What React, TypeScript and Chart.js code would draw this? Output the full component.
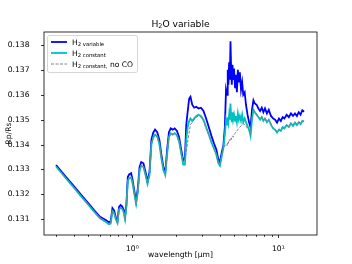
import React, { useEffect, useRef } from "react";
import { Chart, registerables } from "chart.js";

Chart.register(...registerables);

const wavelength = [
  0.30, 0.35, 0.40, 0.45, 0.50, 0.55, 0.60, 0.63, 0.66, 0.69,
  0.71, 0.73, 0.75, 0.77, 0.79, 0.81, 0.83, 0.85, 0.87, 0.89,
  0.91, 0.93, 0.95, 0.98, 1.00, 1.03, 1.06, 1.09, 1.12, 1.15,
  1.19, 1.23, 1.27, 1.31, 1.35, 1.39, 1.43, 1.48, 1.53, 1.58,
  1.63, 1.68, 1.73, 1.78, 1.83, 1.89, 1.95, 2.02, 2.09, 2.16,
  2.23, 2.29, 2.34, 2.39, 2.45, 2.50, 2.57, 2.65, 2.74, 2.84,
  2.95, 3.07, 3.20, 3.34, 3.48, 3.62, 3.76, 3.88, 3.98, 4.10,
  4.20, 4.30, 4.38, 4.45, 4.50, 4.55, 4.60, 4.65, 4.70, 4.75,
  4.80, 4.85, 4.90, 4.97, 5.05, 5.12, 5.20, 5.28, 5.36, 5.45,
  5.55, 5.65, 5.75, 5.88, 6.00, 6.15, 6.30, 6.45, 6.60, 6.75,
  6.90, 7.10, 7.30, 7.50, 7.70, 7.90, 8.10, 8.35, 8.60, 8.90,
  9.20, 9.50, 9.80, 10.1, 10.4, 10.7, 11.0, 11.4, 11.8, 12.2,
  12.6, 13.0, 13.4, 13.8, 14.2, 14.6, 15.0,
];

const rpH2Variable = [
  0.13318, 0.13271, 0.13231, 0.13195, 0.13164, 0.13135, 0.13110, 0.13103, 0.13096, 0.13088,
  0.13092, 0.13145, 0.13135, 0.13108, 0.13092, 0.13150, 0.13157, 0.13152, 0.13140, 0.13110,
  0.13160, 0.13270, 0.13280, 0.13285, 0.13262, 0.13215, 0.13172, 0.13225, 0.13310, 0.13330,
  0.13325, 0.13290, 0.13252, 0.13290, 0.13420, 0.13448, 0.13460, 0.13450, 0.13420, 0.13360,
  0.13310, 0.13290, 0.13380, 0.13450, 0.13465, 0.13460, 0.13465, 0.13455, 0.13430, 0.13380,
  0.13335, 0.13345, 0.13480, 0.13530, 0.13585, 0.13592, 0.13560, 0.13548, 0.13552, 0.13545,
  0.13548, 0.13535, 0.13505, 0.13470, 0.13435, 0.13405, 0.13380, 0.13340, 0.13330, 0.13370,
  0.13395, 0.13470, 0.13620, 0.13600, 0.13700, 0.13640, 0.13730, 0.13660, 0.13815, 0.13700,
  0.13640, 0.13720, 0.13660, 0.13705, 0.13630, 0.13680, 0.13610, 0.13700, 0.13650, 0.13690,
  0.13620, 0.13650, 0.13600, 0.13610, 0.13560, 0.13520, 0.13490, 0.13470, 0.13540, 0.13578,
  0.13565, 0.13560, 0.13545, 0.13535, 0.13548, 0.13530, 0.13545, 0.13525, 0.13540, 0.13515,
  0.13505, 0.13500, 0.13488, 0.13505, 0.13495, 0.13510, 0.13505, 0.13520, 0.13510, 0.13525,
  0.13515, 0.13525, 0.13515, 0.13530, 0.13520, 0.13538, 0.13532,
];

const rpH2Constant = [
  0.13312, 0.13265, 0.13225, 0.13189, 0.13158, 0.13129, 0.13104, 0.13096, 0.13089, 0.13080,
  0.13083, 0.13133, 0.13125, 0.13100, 0.13085, 0.13140, 0.13146, 0.13142, 0.13130, 0.13100,
  0.13150, 0.13255, 0.13265, 0.13268, 0.13248, 0.13203, 0.13162, 0.13210, 0.13295, 0.13315,
  0.13310, 0.13278, 0.13242, 0.13278, 0.13400, 0.13430, 0.13440, 0.13432, 0.13403, 0.13345,
  0.13298, 0.13278, 0.13362, 0.13430, 0.13445, 0.13440, 0.13446, 0.13437, 0.13412, 0.13365,
  0.13320, 0.13320, 0.13420, 0.13470, 0.13495, 0.13505, 0.13495, 0.13505, 0.13515, 0.13520,
  0.13515, 0.13500, 0.13470, 0.13440, 0.13410, 0.13385, 0.13360, 0.13325, 0.13315, 0.13355,
  0.13385, 0.13440, 0.13500, 0.13480, 0.13510, 0.13490, 0.13520, 0.13500, 0.13565, 0.13510,
  0.13490, 0.13530, 0.13500, 0.13520, 0.13495, 0.13515, 0.13490, 0.13525, 0.13500, 0.13515,
  0.13495, 0.13520, 0.13490, 0.13505, 0.13490, 0.13475, 0.13460, 0.13435, 0.13500, 0.13540,
  0.13530, 0.13520, 0.13510, 0.13500, 0.13510, 0.13495, 0.13505, 0.13490, 0.13500, 0.13480,
  0.13465, 0.13460, 0.13448, 0.13460, 0.13455, 0.13470, 0.13465, 0.13478, 0.13470, 0.13485,
  0.13475, 0.13488, 0.13478, 0.13490, 0.13482, 0.13495, 0.13492,
];

const rpH2ConstantNoCO = [
  0.13312, 0.13265, 0.13225, 0.13189, 0.13158, 0.13129, 0.13104, 0.13096, 0.13089, 0.13080,
  0.13083, 0.13133, 0.13125, 0.13100, 0.13085, 0.13140, 0.13146, 0.13142, 0.13130, 0.13100,
  0.13150, 0.13255, 0.13265, 0.13268, 0.13248, 0.13203, 0.13162, 0.13210, 0.13295, 0.13315,
  0.13310, 0.13278, 0.13242, 0.13278, 0.13400, 0.13430, 0.13440, 0.13432, 0.13403, 0.13345,
  0.13298, 0.13278, 0.13362, 0.13430, 0.13445, 0.13440, 0.13446, 0.13437, 0.13412, 0.13365,
  0.13330, 0.13340, 0.13370, 0.13410, 0.13450, 0.13480, 0.13490, 0.13500, 0.13510, 0.13515,
  0.13510, 0.13495, 0.13465, 0.13438, 0.13408, 0.13383, 0.13358, 0.13325, 0.13318, 0.13360,
  0.13385, 0.13395, 0.13400, 0.13395, 0.13410, 0.13405, 0.13420, 0.13415, 0.13425, 0.13420,
  0.13430, 0.13435, 0.13430, 0.13440, 0.13445, 0.13450, 0.13455, 0.13460, 0.13465, 0.13470,
  0.13475, 0.13480, 0.13485, 0.13480, 0.13475, 0.13465, 0.13460, 0.13440, 0.13505, 0.13542,
  0.13532, 0.13523, 0.13512, 0.13503, 0.13512, 0.13498, 0.13507, 0.13493, 0.13502, 0.13483,
  0.13468, 0.13462, 0.13452, 0.13463, 0.13458, 0.13472, 0.13468, 0.13480, 0.13473, 0.13487,
  0.13478, 0.13490, 0.13481, 0.13492, 0.13485, 0.13497, 0.13494,
];

const yTickValues = [0.131, 0.132, 0.133, 0.134, 0.135, 0.136, 0.137, 0.138];
const xTickValues = [0.3, 0.4, 0.5, 0.6, 0.7, 0.8, 0.9, 1, 2, 3, 4, 5, 6, 7, 8, 9, 10];
const xMajorLabels: Record<string, string> = { "1": "10\u2070", "10": "10\u00b9" };

const FONT = "'DejaVu Sans', sans-serif";
const BLUE = "#0000ff";
const TEAL = "#00bfbf";
const GRAY = "#808080";

type Part = { t: string; s: number; dy: number };

function richWidth(ctx: CanvasRenderingContext2D, parts: Part[]) {
  let w = 0;
  for (const p of parts) {
    ctx.font = `${p.s}px ${FONT}`;
    w += ctx.measureText(p.t).width;
  }
  return w;
}

function drawRich(ctx: CanvasRenderingContext2D, x: number, y: number, parts: Part[]) {
  let cx = x;
  ctx.textAlign = "left";
  ctx.textBaseline = "alphabetic";
  for (const p of parts) {
    ctx.font = `${p.s}px ${FONT}`;
    ctx.fillText(p.t, cx, y + p.dy);
    cx += ctx.measureText(p.t).width;
  }
}

const decorPlugin = {
  id: "decor",
  afterDraw(chart: any) {
    const ctx: CanvasRenderingContext2D = chart.ctx;
    const { left, right, top, bottom } = chart.chartArea;
    ctx.save();
    // frame
    ctx.strokeStyle = "#000";
    ctx.lineWidth = 0.8;
    ctx.strokeRect(left, top, right - left, bottom - top);
    // tick marks
    const ys = chart.scales.y;
    for (const v of yTickValues) {
      const py = Math.round(ys.getPixelForValue(v)) + 0.5;
      ctx.beginPath();
      ctx.moveTo(left - 3, py);
      ctx.lineTo(left, py);
      ctx.stroke();
    }
    const xs = chart.scales.x;
    for (const v of xTickValues) {
      const px = Math.round(xs.getPixelForValue(v)) + 0.5;
      const major = v === 1 || v === 10;
      ctx.beginPath();
      ctx.moveTo(px, bottom);
      ctx.lineTo(px, bottom + (major ? 3 : 1.8));
      ctx.stroke();
    }
    // title
    ctx.fillStyle = "#000";
    const titleParts: Part[] = [
      { t: "H", s: 9.2, dy: 0 },
      { t: "2", s: 6.4, dy: 1.8 },
      { t: "O variable", s: 9.2, dy: 0 },
    ];
    const tw = richWidth(ctx, titleParts);
    drawRich(ctx, (left + right) / 2 - tw / 2, 26.5, titleParts);

    // legend
    const bx = 47.5, by = 35.5, bw = 90, bh = 37;
    ctx.beginPath();
    (ctx as any).roundRect(bx, by, bw, bh, 2);
    ctx.fillStyle = "rgba(255,255,255,0.8)";
    ctx.fill();
    ctx.strokeStyle = "#cccccc";
    ctx.lineWidth = 0.8;
    ctx.stroke();

    const entries = [
      { color: BLUE, width: 1.8, dash: [] as number[], y: 42, parts: [
        { t: "H", s: 7.6, dy: 0 }, { t: "2 variable", s: 5.3, dy: 1.5 },
      ] },
      { color: TEAL, width: 1.8, dash: [] as number[], y: 53, parts: [
        { t: "H", s: 7.6, dy: 0 }, { t: "2 constant", s: 5.3, dy: 1.5 },
      ] },
      { color: GRAY, width: 1, dash: [3, 1.5], y: 64, parts: [
        { t: "H", s: 7.6, dy: 0 }, { t: "2 constant,", s: 5.3, dy: 1.5 }, { t: " no CO", s: 7.6, dy: 0 },
      ] },
    ];
    for (const e of entries) {
      ctx.beginPath();
      ctx.strokeStyle = e.color;
      ctx.lineWidth = e.width;
      ctx.setLineDash(e.dash);
      ctx.moveTo(51, e.y);
      ctx.lineTo(67, e.y);
      ctx.stroke();
      ctx.setLineDash([]);
      ctx.fillStyle = "#000";
      drawRich(ctx, 72, e.y + 2.7, e.parts);
    }
    ctx.restore();
  },
};

export default function App() {
  const ref = useRef<HTMLCanvasElement | null>(null);
  useEffect(() => {
    if (!ref.current) return;
    const mk = (vals: number[]) => wavelength.map((x, i) => ({ x, y: vals[i] }));
    const chart = new Chart(ref.current, {
      type: "line",
      data: {
        datasets: [
          { label: "H2 variable", data: mk(rpH2Variable), borderColor: BLUE, borderWidth: 1.8, pointRadius: 0, tension: 0, order: 3, fill: false },
          { label: "H2 constant", data: mk(rpH2Constant), borderColor: TEAL, borderWidth: 1.8, pointRadius: 0, tension: 0, order: 2, fill: false },
          { label: "H2 constant, no CO", data: mk(rpH2ConstantNoCO), borderColor: GRAY, borderWidth: 1, borderDash: [3, 1.5], pointRadius: 0, tension: 0, order: 1, fill: false },
        ],
      },
      options: {
        responsive: false,
        animation: false,
        devicePixelRatio: 1,
        layout: { padding: { left: 0, top: 32, right: 35, bottom: 0 } },
        plugins: { legend: { display: false }, title: { display: false }, tooltip: { enabled: false } },
        scales: {
          x: {
            type: "logarithmic",
            min: 0.248,
            max: 18.4,
            grid: { display: false },
            border: { display: false },
            afterBuildTicks: (s: any) => { s.ticks = xTickValues.map((v) => ({ value: v })); },
            afterFit: (s: any) => { s.height = 29; },
            ticks: {
              autoSkip: false,
              maxRotation: 0,
              padding: 1.5,
              color: "#000",
              font: { family: FONT, size: 7.6 },
              callback: (v: any) => xMajorLabels[String(v)] ?? "",
            },
            title: {
              display: true,
              text: "wavelength [\u03bcm]",
              color: "#000",
              font: { family: FONT, size: 7.6 },
              padding: { top: 0, bottom: 4.4 },
            },
          },
          y: {
            type: "linear",
            min: 0.13037,
            max: 0.13852,
            grid: { display: false },
            border: { display: false },
            afterBuildTicks: (s: any) => { s.ticks = yTickValues.map((v) => ({ value: v })); },
            afterFit: (s: any) => { s.width = 44; },
            ticks: {
              padding: 6.5,
              color: "#000",
              font: { family: FONT, size: 7.6 },
              callback: (v: any) => Number(v).toFixed(3),
            },
            title: {
              display: true,
              text: "Rp/Rs",
              color: "#000",
              font: { family: FONT, size: 7.6 },
              padding: { top: 4, bottom: 0 },
            },
          },
        },
      },
      plugins: [decorPlugin],
    } as any);
    return () => chart.destroy();
  }, []);
  return (
    <div style={{ position: "absolute", left: 0, top: 0, width: 352, height: 264, background: "#fff" }}>
      <canvas ref={ref} width={352} height={264} style={{ display: "block", width: 352, height: 264 }} />
    </div>
  );
}
